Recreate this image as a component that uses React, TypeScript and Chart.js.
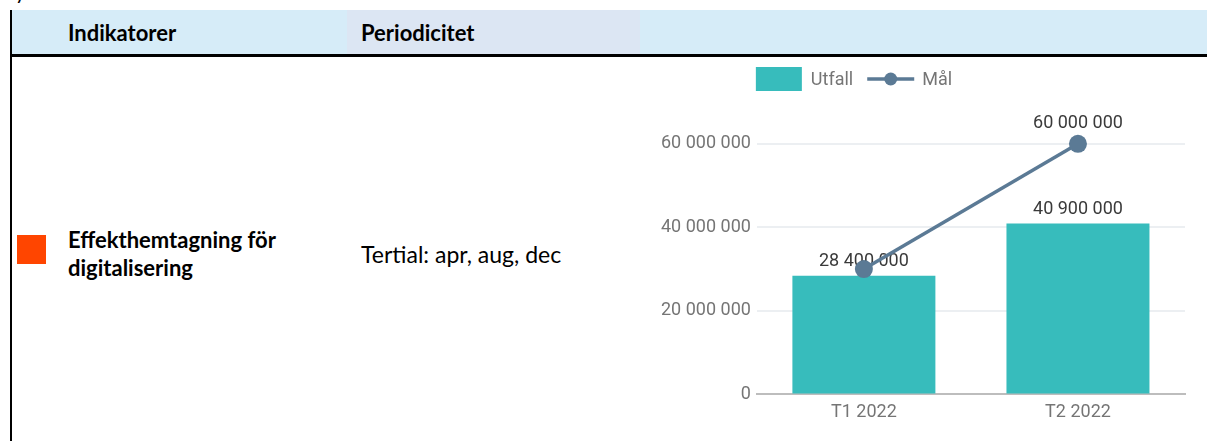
import React, { useEffect, useRef } from 'react';
import { Chart, registerables } from 'chart.js';

Chart.register(...registerables);

const categories = ['T1 2022', 'T2 2022'];
const utfall = [28400000, 40900000];
const mal = [30000000, 60000000];
const yTicks = [0, 20000000, 40000000, 60000000];
const seriesNames = ['Utfall', 'Mål'];

const TEAL = '#37BCBC';
const SLATE = '#5B7A95';
const AXIS_TEXT = '#757575';
const LABEL_TEXT = '#3A3A3A';
const FONT = 'Roboto';
const FS = 18;

const fmt = (v: number) => Math.round(v).toString().replace(/\B(?=(\d{3})+(?!\d))/g, ' ');

type Rect = { l: number; r: number; t: number; b: number };
const overlap = (a: Rect, b: Rect) => a.l < b.r && b.l < a.r && a.t < b.b && b.t < a.b;

const labelPlugin = {
  id: 'valueLabels',
  afterDatasetDraw(chart: any, args: any) {
    const ds = chart.data.datasets[args.index];
    if (ds.type !== 'bar') return;
    const ctx = chart.ctx;
    ctx.save();
    ctx.font = `${FS}px ${FONT}`;
    ctx.fillStyle = LABEL_TEXT;
    ctx.textAlign = 'center';
    ctx.textBaseline = 'alphabetic';
    const rects: Rect[] = [];
    args.meta.data.forEach((el: any, i: number) => {
      const txt = fmt(ds.data[i]);
      const base = el.y - 10;
      const w = ctx.measureText(txt).width;
      ctx.fillText(txt, el.x, base);
      rects.push({ l: el.x - w / 2, r: el.x + w / 2, t: base - FS * 0.9, b: base + FS * 0.3 });
    });
    chart.$barLabelRects = rects;
    ctx.restore();
  },
  afterDatasetsDraw(chart: any) {
    const ctx = chart.ctx;
    const taken: Rect[] = chart.$barLabelRects || [];
    chart.data.datasets.forEach((ds: any, di: number) => {
      if (ds.type !== 'line') return;
      const meta = chart.getDatasetMeta(di);
      ctx.save();
      ctx.font = `${FS}px ${FONT}`;
      ctx.fillStyle = LABEL_TEXT;
      ctx.textAlign = 'center';
      ctx.textBaseline = 'alphabetic';
      meta.data.forEach((el: any, i: number) => {
        const txt = fmt(ds.data[i]);
        const base = el.y - 16;
        const w = ctx.measureText(txt).width;
        const rect = { l: el.x - w / 2, r: el.x + w / 2, t: base - FS * 0.9, b: base + FS * 0.3 };
        if (taken.some((t) => overlap(t, rect))) return;
        ctx.fillText(txt, el.x, base);
        taken.push(rect);
      });
      ctx.restore();
    });
  },
};

const legendPlugin = {
  id: 'customLegend',
  afterDraw(chart: any) {
    const ctx = chart.ctx;
    const datasets = chart.data.datasets;
    let x = chart.chartArea.left - 1;
    const cy = 22;
    ctx.save();
    ctx.font = `${FS}px ${FONT}`;
    ctx.textBaseline = 'middle';
    ctx.textAlign = 'left';
    datasets.forEach((ds: any) => {
      if (ds.type === 'bar') {
        ctx.fillStyle = ds.backgroundColor;
        ctx.fillRect(x, cy - 12, 46, 24);
        x += 46 + 9;
      } else {
        ctx.strokeStyle = ds.borderColor;
        ctx.lineWidth = 3.5;
        ctx.beginPath();
        ctx.moveTo(x, cy);
        ctx.lineTo(x + 47, cy);
        ctx.stroke();
        ctx.fillStyle = ds.borderColor;
        ctx.beginPath();
        ctx.arc(x + 23.5, cy, 6.5, 0, Math.PI * 2);
        ctx.fill();
        x += 47 + 8;
      }
      ctx.fillStyle = AXIS_TEXT;
      ctx.fillText(ds.label, x, cy + 1);
      x += ctx.measureText(ds.label).width + 14;
    });
    ctx.restore();
  },
};

export default function App() {
  const ref = useRef<HTMLCanvasElement>(null);

  useEffect(() => {
    document.body.style.margin = '0';
    Chart.defaults.font.family = FONT;
    const chart = new Chart(ref.current as HTMLCanvasElement, {
      type: 'bar',
      data: {
        labels: categories,
        datasets: [
          {
            type: 'bar',
            label: seriesNames[0],
            data: utfall,
            backgroundColor: TEAL,
            order: 1,
            barPercentage: 0.668,
            categoryPercentage: 1,
          } as any,
          {
            type: 'line',
            label: seriesNames[1],
            data: mal,
            borderColor: SLATE,
            backgroundColor: SLATE,
            borderWidth: 3.5,
            pointRadius: 9,
            pointHoverRadius: 9,
            pointBorderWidth: 0,
            pointBackgroundColor: SLATE,
            tension: 0,
            order: 0,
          } as any,
        ],
      },
      options: {
        responsive: false,
        animation: false,
        events: [],
        layout: { padding: { top: 45, right: 22, bottom: 11, left: 15 } },
        plugins: { legend: { display: false }, tooltip: { enabled: false } },
        scales: {
          x: {
            grid: { display: false, drawTicks: false },
            border: { display: true, color: '#BDBDBD', width: 2 },
            ticks: { color: AXIS_TEXT, font: { family: FONT, size: FS }, padding: 7 },
          },
          y: {
            min: 0,
            max: 70000000,
            grid: {
              drawTicks: false,
              lineWidth: 2,
              color: (c: any) => (c.tick && c.tick.value === 0 ? 'rgba(0,0,0,0)' : '#ECEFF2'),
            },
            border: { display: false },
            ticks: {
              color: AXIS_TEXT,
              font: { family: FONT, size: FS },
              padding: 6,
              callback: (v: any) => fmt(Number(v)),
            },
            afterBuildTicks: (axis: any) => {
              axis.ticks = yTicks.map((v) => ({ value: v }));
            },
          },
        },
      },
      plugins: [labelPlugin, legendPlugin],
    });
    return () => chart.destroy();
  }, []);

  const cellFont = "Lato, 'Noto Sans', sans-serif";
  const fs = 23;
  const fsb = 22;

  return (
    <div style={{ position: 'relative', width: 1207, height: 441, overflow: 'hidden', background: '#fff', fontFamily: cellFont, color: '#000' }}>
      <div style={{ position: 'absolute', left: 15, top: -21, fontSize: 21, lineHeight: '24px' }}>y</div>
      {/* header backgrounds */}
      <div style={{ position: 'absolute', left: 10, top: 10, width: 337, height: 44, background: '#D6ECF8' }} />
      <div style={{ position: 'absolute', left: 347, top: 10, width: 293, height: 44, background: '#DCE6F3' }} />
      <div style={{ position: 'absolute', left: 640, top: 10, width: 567, height: 44, background: '#D6ECF8' }} />
      {/* header bottom rule */}
      <div style={{ position: 'absolute', left: 10, top: 54, width: 1197, height: 3, background: '#000' }} />
      {/* left border */}
      <div style={{ position: 'absolute', left: 10, top: 10, width: 2, height: 431, background: '#000' }} />
      {/* header texts */}
      <div style={{ position: 'absolute', left: 68, top: 19, lineHeight: '28px', fontSize: fsb, fontWeight: 700 }}>Indikatorer</div>
      <div style={{ position: 'absolute', left: 361, top: 19, lineHeight: '28px', fontSize: fsb, fontWeight: 700 }}>Periodicitet</div>
      {/* body */}
      <div style={{ position: 'absolute', left: 17, top: 235, width: 29, height: 29, background: '#FF4500' }} />
      <div style={{ position: 'absolute', left: 68, top: 226, lineHeight: '28px', fontSize: fsb, fontWeight: 700 }}>
        Effekthemtagning för
        <br />
        digitalisering
      </div>
      <div style={{ position: 'absolute', left: 361, top: 240, lineHeight: '28px', fontSize: fs }}>Tertial: apr, aug, dec</div>
      {/* chart */}
      <div style={{ position: 'absolute', left: 640, top: 57, width: 567, height: 384 }}>
        <canvas ref={ref} width={567} height={384} style={{ width: 567, height: 384, display: 'block' }} />
      </div>
    </div>
  );
}
